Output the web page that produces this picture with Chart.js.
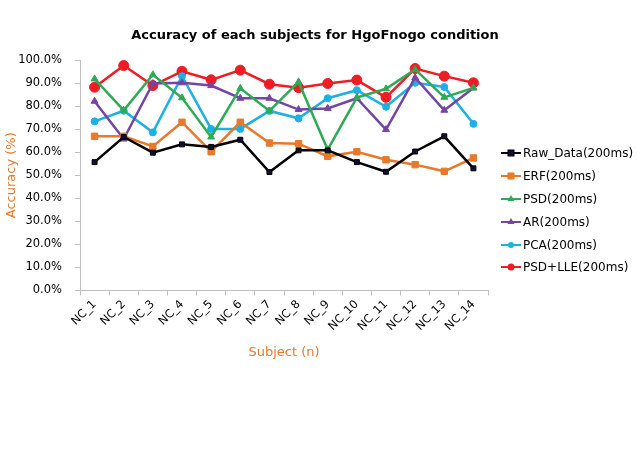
<!DOCTYPE html>
<html><head><meta charset="utf-8">
<script src="https://cdn.jsdelivr.net/npm/chart.js@4/dist/chart.umd.min.js"></script>
<style>
html,body{margin:0;padding:0;background:#fff;}
#wrap{position:relative;width:638px;height:473px;font-family:"DejaVu Sans",sans-serif;}
#c{position:absolute;left:0;top:0;}
#title{position:absolute;left:0;top:27px;width:630px;text-align:center;font-weight:bold;font-size:13px;color:#000;}
#legend{position:absolute;left:501px;top:142px;}
.item{height:22.8px;display:flex;align-items:center;font-size:12px;color:#000;}
.item svg{margin-right:2px;}
</style></head>
<body>
<div id="wrap">
<canvas id="c" width="638" height="473"></canvas>
<div id="title">Accuracy of each subjects for HgoFnogo condition</div>
<div id="legend"></div>
</div>
<script>
const categories = ['NC_1','NC_2','NC_3','NC_4','NC_5','NC_6','NC_7','NC_8','NC_9','NC_10','NC_11','NC_12','NC_13','NC_14'];
const seriesNames = ['Raw_Data(200ms)','ERF(200ms)','PSD(200ms)','AR(200ms)','PCA(200ms)','PSD+LLE(200ms)'];
const rawData = [55.7,66.6,59.8,63.4,62.3,65.4,51.4,60.8,60.8,55.7,51.5,60.3,66.9,53.0];
const erf     = [66.9,66.9,62.5,73.0,60.2,73.0,64.0,63.7,58.2,60.2,56.7,54.6,51.7,57.5];
const psd     = [91.8,78.2,93.6,83.6,66.6,87.7,77.9,90.5,61.1,83.7,87.5,95.9,83.8,87.9];
const ar      = [82.1,65.7,89.8,90.1,88.9,83.4,83.4,78.5,79.0,83.4,69.8,92.3,78.2,87.9];
const pca     = [73.4,78.0,68.6,93.0,70.1,70.1,77.9,74.7,83.4,86.9,79.7,90.1,88.3,72.3];
const psdLle  = [88.2,97.6,88.9,95.1,91.4,95.6,89.5,88.0,89.8,91.3,83.8,96.3,93.0,90.1];
const yTicks = [0,10,20,30,40,50,60,70,80,90,100];

const styles = [
  {color:'#000000', fill:'#0d1030', shape:'rect', r:3.5},
  {color:'#E8792B', fill:'#E8792B', shape:'rect', r:4.5},
  {color:'#2EAA55', fill:'#2EAA55', shape:'triangle', r:4},
  {color:'#7445A3', fill:'#7445A3', shape:'triangle', r:4},
  {color:'#1DB0E4', fill:'#1DB0E4', shape:'circle', r:3.5},
  {color:'#EE1C25', fill:'#EE1C25', shape:'circle', r:5}
];
const values = [rawData, erf, psd, ar, pca, psdLle];

const datasets = values.map((v,i)=>({
  label: seriesNames[i],
  data: v,
  borderColor: styles[i].color,
  backgroundColor: styles[i].fill,
  pointBackgroundColor: styles[i].fill,
  pointBorderColor: styles[i].color,
  pointStyle: styles[i].shape,
  pointRadius: styles[i].r,
  pointBorderWidth: 1,
  borderWidth: 2.5,
  tension: 0,
  fill: false
}));

const font = {family:'"DejaVu Sans", sans-serif', size:11};
new Chart(document.getElementById('c'), {
  type:'line',
  data:{labels:categories, datasets},
  options:{
    responsive:false, animation:false, devicePixelRatio:1,
    layout:{padding:{left:0,right:150,top:60,bottom:107.5}},
    plugins:{legend:{display:false}, title:{display:false}, tooltip:{enabled:false}},
    scales:{
      x:{
        offset:true,
        grid:{display:true, drawOnChartArea:false, drawTicks:true, tickLength:5, offset:true, color:'#c0c0c0'},
        border:{color:'#c0c0c0'},
        ticks:{minRotation:45, maxRotation:45, autoSkip:false, color:'#000', font:{family:font.family,size:11.5}, padding:2},
        title:{display:true, text:'Subject (n)', color:'#E8792B', font:{family:font.family,size:13}, padding:{top:4,bottom:5}},
        afterFit(s){ s.height = 75; }
      },
      y:{
        min:0, max:100,
        afterBuildTicks(s){ s.ticks = yTicks.map(v=>({value:v})); },
        grid:{display:true, drawOnChartArea:false, drawTicks:true, tickLength:5, color:'#c0c0c0'},
        border:{color:'#c0c0c0'},
        ticks:{color:'#000', font:{family:font.family,size:11.5}, padding:13, callback:v=>Number(v).toFixed(1)+'%'},
        title:{display:true, text:'Accuracy (%)', color:'#E8792B', font:{family:font.family,size:13}, padding:{top:4,bottom:4}},
        afterFit(s){ s.width = 80; }
      }
    }
  }
});

// HTML legend
const leg = document.getElementById('legend');
styles.forEach((st,i)=>{
  const d = document.createElement('div'); d.className='item';
  let m = '';
  if(st.shape==='rect') m = `<rect x="7" y="8" width="6" height="6" fill="${st.fill}" stroke="${st.color}"/>`;
  else if(st.shape==='triangle') m = `<polygon points="10,7 13.5,13 6.5,13" fill="${st.fill}"/>`;
  else m = `<circle cx="10" cy="11" r="${st.r>4?3.5:3}" fill="${st.fill}"/>`;
  d.innerHTML = `<svg width="20" height="22"><line x1="0" y1="11" x2="20" y2="11" stroke="${st.color}" stroke-width="2"/>${m}</svg><span>${seriesNames[i]}</span>`;
  leg.appendChild(d);
});
</script>
</body></html>
